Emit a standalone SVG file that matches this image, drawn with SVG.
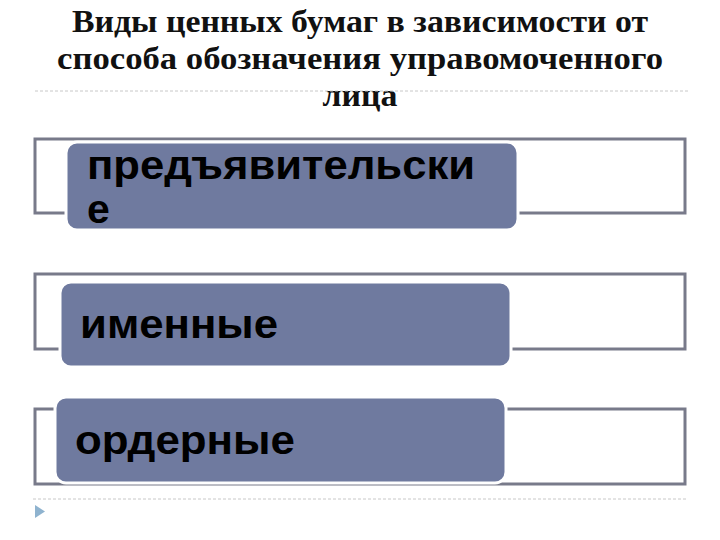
<svg xmlns="http://www.w3.org/2000/svg" width="720" height="540" viewBox="0 0 720 540">
<style>
.title{font-family:"Liberation Serif","DejaVu Serif",serif;font-weight:bold;font-size:32px;fill:#111;text-anchor:middle}
.frame{fill:none;stroke:#787a8a;stroke-width:3}
.pill{fill:#6f7a9f;stroke:#ffffff;stroke-width:3}
.lbl{font-family:"Liberation Sans",Arial,sans-serif;font-weight:bold;font-size:41px;fill:#000}
.dash{stroke:#c8c8c8;stroke-width:1;stroke-dasharray:3 2}
</style>
<rect width="720" height="540" fill="#fff"/>
<g id="title">
<text class="title" x="360" y="32" textLength="576" lengthAdjust="spacingAndGlyphs">Виды ценных бумаг в зависимости от</text>
<text class="title" x="360" y="69" textLength="606" lengthAdjust="spacingAndGlyphs">способа обозначения управомоченного</text>
<text class="title" x="360" y="106" textLength="75" lengthAdjust="spacingAndGlyphs">лица</text>
</g>
<g id="rules">
<line class="dash" x1="35" y1="91" x2="688" y2="91"/>
<line class="dash" x1="33" y1="499" x2="688" y2="499"/>
<polygon points="35,505 45,511.5 35,518" fill="#8fb3cf"/>
</g>
<g id="node1">
<rect class="frame" x="35" y="139" width="650" height="74"/>
<rect class="pill" x="66" y="142" width="452" height="88" rx="11"/>
<text class="lbl" x="87" y="179" textLength="388" lengthAdjust="spacingAndGlyphs">предъявительски</text>
<text class="lbl" x="87" y="223">е</text>
</g>
<g id="node2">
<rect class="frame" x="35" y="274" width="650" height="75"/>
<rect class="pill" x="60" y="282" width="451" height="85" rx="11"/>
<text class="lbl" x="80" y="338" textLength="198" lengthAdjust="spacingAndGlyphs">именные</text>
</g>
<g id="node3">
<rect class="frame" x="35" y="409" width="650" height="75"/>
<rect class="pill" x="55" y="397" width="451" height="86" rx="11"/>
<text class="lbl" x="75" y="454" textLength="220" lengthAdjust="spacingAndGlyphs">ордерные</text>
</g>
</svg>
